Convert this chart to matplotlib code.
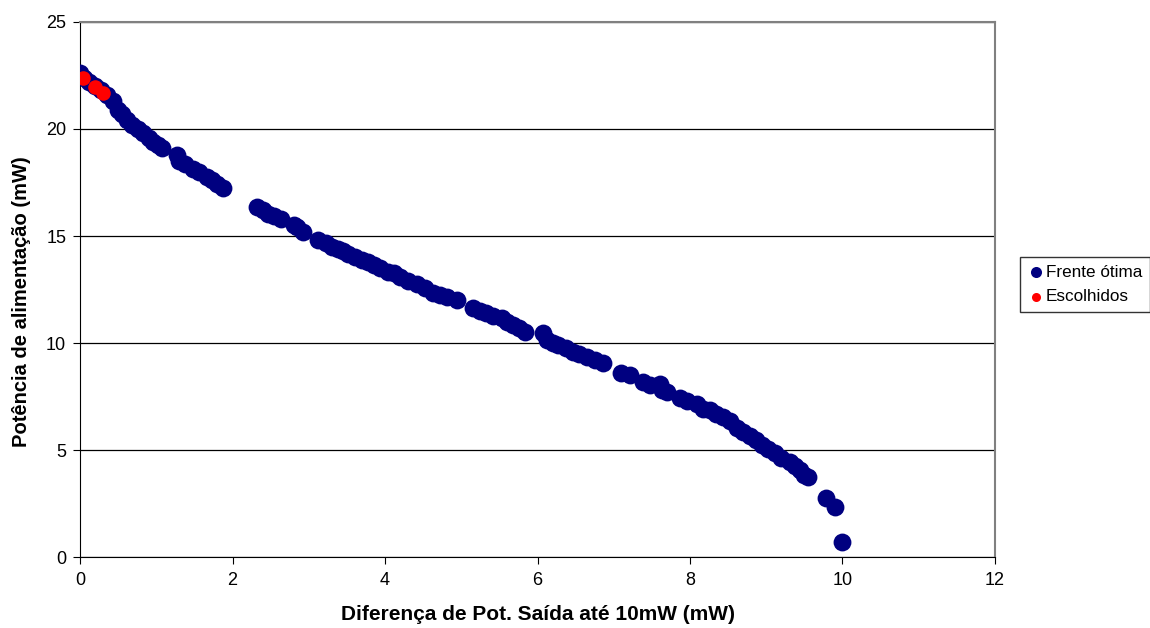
import matplotlib
matplotlib.use('Agg')
import matplotlib.pyplot as plt

plt.rcParams['font.family'] = ['Liberation Sans', 'DejaVu Sans']

# Frente ótima (pontos azuis)
frente_x = [0.00, 0.05, 0.12, 0.20, 0.27, 0.35, 0.43, 0.50, 0.55, 0.62, 0.68, 0.76, 0.83, 0.90, 0.96,
            1.02, 1.07, 1.27, 1.30, 1.38, 1.48, 1.56, 1.66, 1.73, 1.80, 1.88,
            2.32, 2.40, 2.47, 2.55, 2.64, 2.80, 2.84, 2.93, 3.12, 3.22, 3.30, 3.38, 3.45, 3.52,
            3.61, 3.70, 3.78, 3.85, 3.93, 4.04, 4.12, 4.20, 4.30, 4.42, 4.52, 4.63, 4.72, 4.81,
            4.94, 5.16, 5.24, 5.33, 5.42, 5.53, 5.60, 5.68, 5.76, 5.84, 6.07, 6.12, 6.20, 6.27,
            6.38, 6.47, 6.55, 6.65, 6.75, 6.86, 7.10, 7.21, 7.38, 7.48, 7.61, 7.63, 7.70, 7.87,
            7.96, 8.09, 8.17, 8.26, 8.34, 8.43, 8.52, 8.61, 8.70, 8.79, 8.87, 8.94, 9.02, 9.11,
            9.20, 9.31, 9.38, 9.44, 9.50, 9.55, 9.79, 9.90, 9.99]
frente_y = [22.6, 22.4, 22.2, 22.0, 21.8, 21.6, 21.3, 20.9, 20.7, 20.4, 20.2, 20.0, 19.8, 19.6, 19.4,
            19.25, 19.1, 18.8, 18.5, 18.35, 18.15, 18.0, 17.75, 17.6, 17.45, 17.25,
            16.35, 16.2, 16.05, 15.95, 15.8, 15.5, 15.4, 15.2, 14.8, 14.65, 14.5, 14.4, 14.28, 14.18,
            14.03, 13.9, 13.8, 13.65, 13.5, 13.33, 13.25, 13.1, 12.9, 12.75, 12.55, 12.35, 12.25, 12.17,
            12.0, 11.65, 11.5, 11.38, 11.28, 11.15, 11.0, 10.85, 10.72, 10.5, 10.45, 10.15, 10.0, 9.9,
            9.75, 9.6, 9.5, 9.36, 9.2, 9.06, 8.62, 8.5, 8.2, 8.05, 8.1, 7.8, 7.7, 7.45,
            7.3, 7.15, 6.9, 6.85, 6.7, 6.55, 6.35, 6.05, 5.85, 5.65, 5.45, 5.25, 5.05, 4.85,
            4.65, 4.45, 4.25, 4.07, 3.85, 3.72, 2.75, 2.32, 0.70]

# Escolhidos (pontos vermelhos)
escolhidos_x = [0.04, 0.19, 0.30]
escolhidos_y = [22.4, 21.95, 21.7]

fig = plt.figure(figsize=(11.5, 6.28), dpi=100)
ax = fig.add_axes([0.0696, 0.113, 0.7956, 0.852])

ax.scatter(frente_x, frente_y, s=165, color='#000080', label='Frente ótima', zorder=3, linewidths=0)
ax.scatter(escolhidos_x, escolhidos_y, s=110, color='#ff0000', label='Escolhidos', zorder=4, linewidths=0)

ax.set_xlim(0, 12)
ax.set_ylim(0, 25)
ax.set_xticks(range(0, 13, 2))
ax.set_yticks(range(0, 26, 5))
ax.yaxis.grid(True, color='black', linewidth=0.9)
ax.set_axisbelow(True)

ax.spines['top'].set_color('#808080')
ax.spines['right'].set_color('#808080')
ax.spines['top'].set_linewidth(1.5)
ax.spines['right'].set_linewidth(1.5)
ax.spines['left'].set_color('black')
ax.spines['bottom'].set_color('black')

ax.tick_params(axis='both', direction='out', length=5, labelsize=13, colors='black')
ax.tick_params(axis='x', pad=6)
ax.tick_params(axis='y', pad=5)

ax.set_xlabel('Diferença de Pot. Saída até 10mW (mW)', fontsize=15, fontweight='bold', labelpad=11)
ax.set_ylabel('Potência de alimentação (mW)', fontsize=14.5, fontweight='bold')
ax.yaxis.set_label_coords(-0.054, 0.478)

leg = ax.legend(loc='center left', bbox_to_anchor=(0.887, 0.547), bbox_transform=fig.transFigure,
                frameon=True, fancybox=False, fontsize=12.3, markerscale=0.62,
                handletextpad=0.05, handlelength=1.0, borderpad=0.45, labelspacing=0.55,
                borderaxespad=0)
leg.get_frame().set_edgecolor('black')
leg.get_frame().set_linewidth(1.0)

fig.savefig('out.png', dpi=100)
